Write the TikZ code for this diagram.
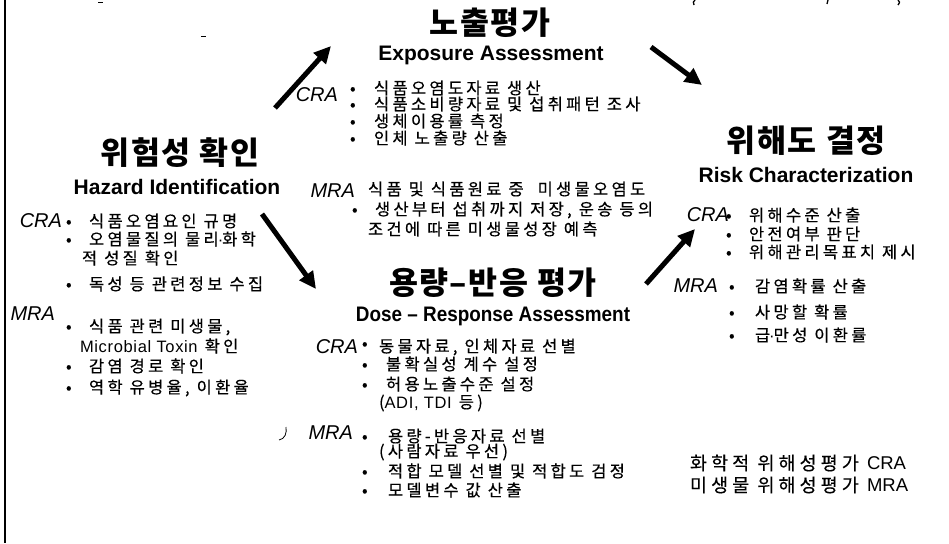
\documentclass[tikz,border=0pt]{standalone}
\usepackage{fontspec}
\usepackage{graphicx}
\setmainfont{Liberation Sans}
\newfontfamily\kr[LetterSpace=20,FakeBold=0.4]{Noto Sans CJK KR}
\newfontfamily\krl[LetterSpace=22,FakeBold=0.3]{Noto Sans CJK KR}
\newfontfamily\krt[LetterSpace=6]{Noto Sans CJK KR}
\usetikzlibrary{arrows.meta}
\newcommand{\bul}[1][14pt]{\makebox[#1][l]{•}}
\newcommand{\lat}[1]{{\rmfamily #1}}
\newcommand{\latw}[1]{{\rmfamily\addfontfeatures{LetterSpace=4}#1}}
\newcommand{\mdot}{{\rmfamily\kern-1pt·\kern-1pt}}
\tikzset{
  every node/.style={inner sep=0pt, outer sep=0pt},
  title/.style={font=\krt\bfseries\fontsize{31.5}{33}\selectfont},
  subtitle/.style={font=\bfseries\fontsize{21}{23}\selectfont},
  tag/.style={font=\itshape\fontsize{20}{22}\selectfont, anchor=east},
  body/.style={font=\kr\fontsize{16.5}{18}\selectfont, anchor=west},
  legend/.style={font=\krl\fontsize{18.5}{20}\selectfont, anchor=west},
  bigarrow/.style={line width=5pt, -{Triangle[length=17pt,width=16pt]}},
  speck/.style={line width=1pt},
}
\begin{document}
\begin{tikzpicture}[x=1pt,y=-1pt]
\fill[white] (0,0) rectangle (949,543);
\path[use as bounding box] (0,0) rectangle (949,543);
% left border
\coordinate (bt) at (5,0);
\coordinate (bb) at (5,543);
\draw[line width=2pt] (bt) -- (bb);
% specks
\draw[speck] (98,3) -- (103,3);
\draw[speck] (201,37) -- (206,37);
\draw[line width=1.3pt] (695,0) .. controls (693,2) .. (694,5);
\draw[line width=1.3pt] (828,0) -- (827,4);
\draw[line width=1.3pt] (898,0) .. controls (900,2) .. (898,5);

% Exposure assessment
\node[title] (t1) at (490,23) {노출평가};
\node[subtitle] (s1) at (491,55) {Exposure Assessment};
\node[tag] (c1) at (338,95) {CRA};
\node[body] (c1a) at (350,88) {\bul[17pt] 식품오염도자료 생산};
\node[body] (c1b) at (350,104) {\bul[17pt] 식품소비량자료 및 섭취패턴 조사};
\node[body] (c1c) at (350,121) {\bul[17pt] 생체이용률 측정};
\node[body] (c1d) at (350,138) {\bul[17pt] 인체 노출량 산출};
\node[tag] (m1) at (355,191) {MRA};
\node[body] (m1a) at (368,189) {식품 및 식품원료 중\ \ 미생물오염도};
\node[body] (m1b) at (352,210) {\bul[16pt] 생산부터 섭취까지 저장, 운송 등의};
\node[body] (m1c) at (368,229) {조건에 따른 미생물성장 예측};

% Hazard identification
\node[title] (t2) at (180,153) {위험성 확인};
\node[subtitle] (s2) at (177,187) {Hazard Identification};
\node[tag] (c2) at (62,221) {CRA};
\node[body] (c2a) at (66,221) {\bul[16pt] 식품오염요인 규명};
\node[body] (c2b) at (66,239) {\bul[16pt] 오염물질의 물리\mdot 화학};
\node[body] (c2c) at (82,258) {적 성질 확인};
\node[body] (c2d) at (66,284) {\bul[16pt] 독성 등 관련정보 수집};
\node[tag] (m2) at (55,314) {MRA};
\node[body] (m2a) at (66,327) {\bul[16pt] 식품 관련 미생물,};
\node[body] (m2b) at (80,346) {\latw{Microbial Toxin} 확인};
\node[body] (m2c) at (66,366) {\bul[16pt] 감염 경로 확인};
\node[body] (m2d) at (66,388) {\bul[16pt] 역학 유병율, 이환율};

% Dose-response assessment
\node[title] (t3) at (493,283) {용량\kern1pt–\kern1pt반응 평가};
\node[subtitle] (s3) at (493,316) {\scalebox{0.9}[1]{Dose – Response Assessment}};
\node[tag] (c3) at (358,347) {CRA};
\node[body] (c3a) at (362,347) {\raisebox{3pt}{\bul[17pt]}동물자료, 인체자료 선별};
\node[body] (c3b) at (362,364) {\bul[17pt] 불확실성 계수 설정};
\node[body] (c3c) at (362,384) {\bul[17pt] 허용노출수준 설정};
\node[body] (c3d) at (379,403) {(\latw{ADI, TDI} 등)};
\node[tag] (m3) at (353,433) {MRA};
\node[body] (m3a) at (362,436) {\bul[19pt] 용량-반응자료 선별};
\node[body] (m3b) at (379,452) {(사람자료 우선)};
\node[body] (m3c) at (362,471) {\bul[19pt] 적합 모델 선별 및 적합도 검정};
\node[body] (m3d) at (362,490) {\bul[19pt] 모델변수 값 산출};
\draw[line width=0.8pt] (279,440) .. controls (285,439) and (287,433) .. (286,427);

% Risk characterization
\node[title] (t4) at (806,141) {위해도 결정};
\node[subtitle] (s4) at (806,175) {Risk Characterization};
\node[tag] (c4) at (729,215) {CRA};
\node[body] (c4a) at (726,215) {\bul[16pt] 위해수준 산출};
\node[body] (c4b) at (726,234) {\bul[16pt] 안전여부 판단};
\node[body] (c4c) at (726,252) {\bul[16pt] 위해관리목표치 제시};
\node[tag] (m4) at (718,286) {MRA};
\node[body] (m4a) at (729,286) {\bul[19pt] 감염확률 산출};
\node[body] (m4b) at (729,312) {\bul[19pt] 사망할 확률};
\node[body] (m4c) at (729,335) {\bul[19pt] 급\mdot 만성 이환률};

% legend
\node[legend] (l1) at (690,463) {화학적 위해성평가 \lat{CRA}};
\node[legend] (l2) at (690,485) {미생물 위해성평가 \lat{MRA}};

% arrows
\coordinate (a1s) at (275,108); \coordinate (a1e) at (331,46);
\coordinate (a2s) at (651,47);  \coordinate (a2e) at (702,85);
\coordinate (a3s) at (262,214); \coordinate (a3e) at (316,289);
\coordinate (a4s) at (646,284); \coordinate (a4e) at (695,229);
\draw[bigarrow] (a1s) -- (a1e);
\draw[bigarrow] (a2s) -- (a2e);
\draw[bigarrow] (a3s) -- (a3e);
\draw[bigarrow] (a4s) -- (a4e);
\end{tikzpicture}
\end{document}
